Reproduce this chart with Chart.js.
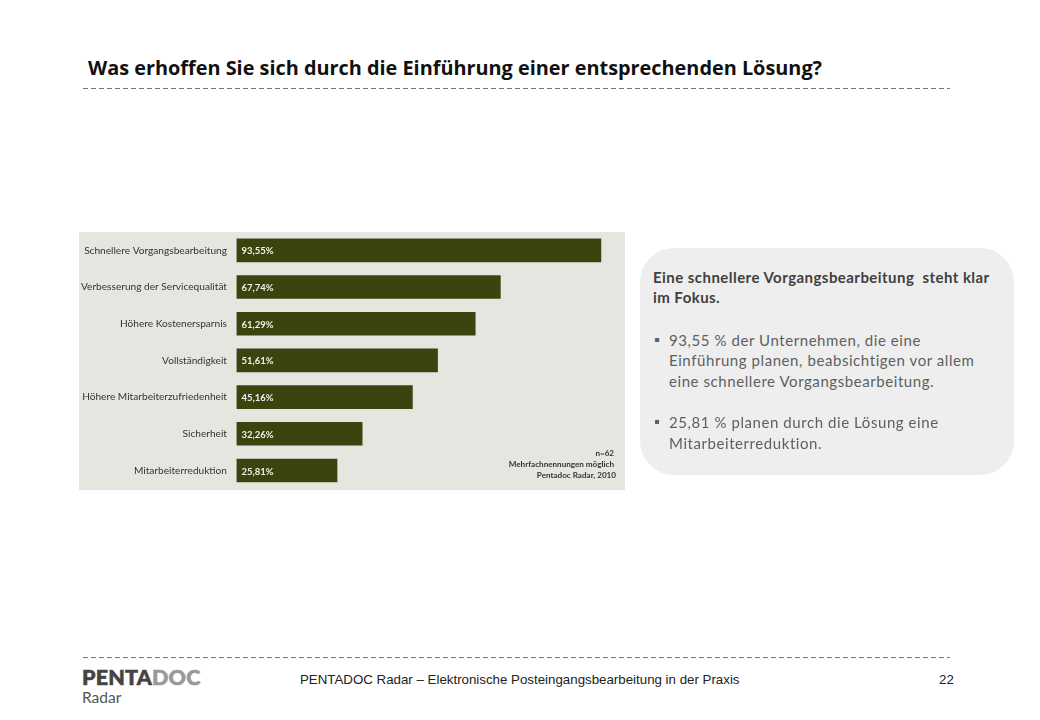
<!DOCTYPE html>
<html lang="de"><head><meta charset="utf-8">
<script src="https://cdn.jsdelivr.net/npm/chart.js@4"></script>
<style>
html,body{margin:0;padding:0;background:#fff}
#page{position:relative;width:1040px;height:720px;overflow:hidden;font-family:Lato,sans-serif}
.t{position:absolute;white-space:nowrap}
.dash{position:absolute;left:83px;width:867px;height:1px;background:repeating-linear-gradient(90deg,#777 0 5px,transparent 5px 8px)}
#panel{position:absolute;left:79px;top:232px;width:546px;height:258px;background:#e6e6e1}
#cv{position:absolute;left:79px;top:232px}
#box{position:absolute;left:640px;top:248px;width:374px;height:227px;border-radius:34px;background:#eeeeee}
.b{font-size:15px;color:#5f5f5f;letter-spacing:.57px;line-height:20px}
.h{font-weight:700;color:#404040;letter-spacing:.45px}
</style></head><body><div id="page">
<div class="t" style="left:88px;top:54px;font-size:19.86px;font-weight:700;color:#111;font-family:'Open Sans'" id="title">Was erhoffen Sie sich durch die Einführung einer entsprechenden Lösung?</div>
<div class="dash" style="top:88px"></div>
<div id="panel"></div>
<canvas id="cv" width="548" height="258" style="width:548px;height:258px"></canvas>
<div class="t" style="right:424px;top:448px;font-size:8.1px;font-weight:700;color:#333;line-height:11px;text-align:right">n=62&nbsp;<br>Mehrfachnennungen möglich&nbsp;<br>Pentadoc Radar, 2010</div>
<div id="box"></div>
<div class="t b h" style="left:653px;top:267px">Eine schnellere Vorgangsbearbeitung&nbsp; steht klar</div>
<div class="t b h" style="left:653px;top:287px">im Fokus.</div>
<div class="t b" style="left:654px;top:329px">▪</div>
<div class="t b" style="left:669px;top:330px">93,55 % der Unternehmen, die eine</div>
<div class="t b" style="left:669px;top:350px">Einführung planen, beabsichtigen vor allem</div>
<div class="t b" style="left:669px;top:371px">eine schnellere Vorgangsbearbeitung.</div>
<div class="t b" style="left:654px;top:411px">▪</div>
<div class="t b" style="left:669px;top:412px">25,81 % planen durch die Lösung eine</div>
<div class="t b" style="left:669px;top:433px">Mitarbeiterreduktion.</div>
<div class="dash" style="top:657px"></div>
<div class="t" style="left:82px;top:664px;font-size:21.5px;font-weight:900;letter-spacing:.2px;color:#444;-webkit-text-stroke:.6px #444">PENTA<span style="color:#999;-webkit-text-stroke:.6px #999">DOC</span></div>
<div class="t" style="left:82px;top:688px;font-size:15.5px;color:#555">Radar</div>
<div class="t" style="left:300px;top:672px;font-size:13.3px;color:#222;font-family:'Liberation Sans'">PENTADOC Radar – Elektronische Posteingangsbearbeitung in der Praxis</div>
<div class="t" style="left:939px;top:672px;font-size:13.3px;color:#222;font-family:'Liberation Sans'">22</div>
</div>
<script>
const categories=["Schnellere Vorgangsbearbeitung","Verbesserung der Servicequalität","Höhere Kostenersparnis","Vollständigkeit","Höhere Mitarbeiterzufriedenheit","Sicherheit","Mitarbeiterreduktion"];
const values=[93.55,67.74,61.29,51.61,45.16,32.26,25.81];
const valueLabels=["93,55%","67,74%","61,29%","51,61%","45,16%","32,26%","25,81%"];
const barLabels={id:'barLabels',afterDatasetsDraw(c){
  const g=c.ctx;g.save();g.font='700 9.5px Lato';g.fillStyle='#f2f2e8';g.textBaseline='middle';
  c.getDatasetMeta(0).data.forEach((b,i)=>g.fillText(valueLabels[i],b.base+5,b.y+1));g.restore();}};
new Chart(document.getElementById('cv'),{type:'bar',
 data:{labels:categories,datasets:[{data:values,backgroundColor:'#3c430f',barThickness:23,borderWidth:0}]},
 options:{indexAxis:'y',responsive:false,animation:false,
  layout:{autoPadding:false,padding:{top:0,bottom:1.2,left:0,right:0}},
  plugins:{legend:{display:false},tooltip:{enabled:false}},
  scales:{
   x:{display:false,min:0,max:100.25},
   y:{afterFit(s){s.width=157.5;s.paddingTop=0;s.paddingBottom=0},grid:{display:false,drawTicks:false},border:{display:false},
      ticks:{color:'#333',padding:9.5,font:{family:'Lato',size:10.15},autoSkip:false}}
  }},plugins:[barLabels]});
</script></body></html>
